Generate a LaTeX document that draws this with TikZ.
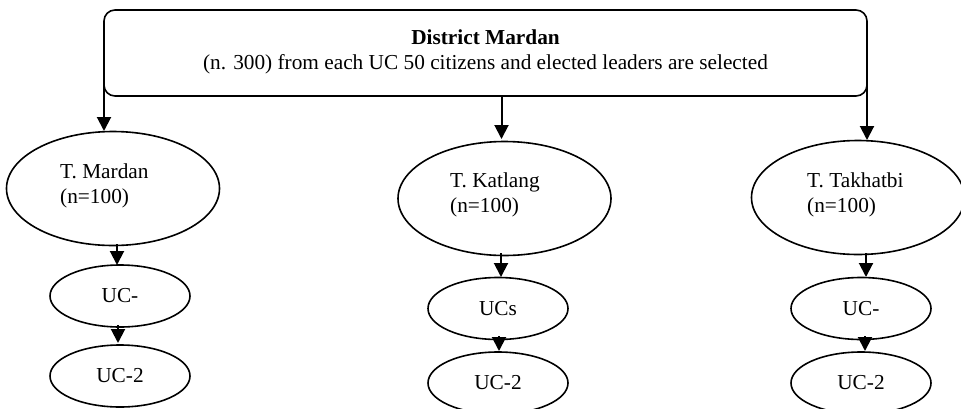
\documentclass[tikz,border=0pt]{standalone}
\usepackage{fontspec}
\setmainfont{Liberation Serif}
\usetikzlibrary{shapes.geometric,arrows.meta}
\begin{document}
\begin{tikzpicture}[x=1pt,y=-1pt,
  every node/.style={font=\fontsize{21.3}{25}\selectfont, inner sep=0pt},
  topbox/.style={draw, line width=1.6pt, rounded corners=11pt, minimum width=763pt, minimum height=86pt},
  bigell/.style={draw, ellipse, line width=1.6pt, minimum width=213pt, minimum height=114pt},
  smallell/.style={draw, ellipse, line width=1.6pt, minimum width=140pt, minimum height=62pt},
  lbl/.style={anchor=west, align=left},
  arr/.style={line width=2pt, -{Triangle[width=14pt,length=14pt]}}]
\useasboundingbox (0,0) rectangle (961,408);
% top box
\node[topbox] (top) at (485.5,53) {};
\node[align=center] (toptext) at (485.5,52) {\textbf{District Mardan}\\(n. 300) from each UC 50 citizens and elected leaders are selected};
% tehsil ellipses
\node[bigell] (tm) at (113,188.5) {};
\node[lbl] (tmt) at (60,186) {T. Mardan\\(n=100)};
\node[bigell] (tk) at (504.5,198.5) {};
\node[lbl] (tkt) at (450,195) {T. Katlang\\(n=100)};
\node[bigell] (tt) at (858,197.5) {};
\node[lbl] (ttt) at (807,195) {T. Takhatbi\\(n=100)};
% UC ellipses
\node[smallell] (m1) at (120,296) {UC-};
\node[smallell] (m2) at (120,376) {UC-2};
\node[smallell] (k1) at (498,308.5) {UCs};
\node[smallell] (k2) at (498,383) {UC-2};
\node[smallell] (t1) at (861,308.5) {UC-};
\node[smallell] (t2) at (861,383) {UC-2};
% arrows from top box
\coordinate (a1) at (104,131);
\coordinate (a2) at (501.5,139);
\coordinate (a3) at (867,140);
\draw[arr] (a1 |- 0,82) -- (a1);
\draw[arr] (top.south -| a2) -- (a2);
\draw[arr] (a3 |- 0,82) -- (a3);
% arrows down
\draw[arr] (117,244) -- (117,265);
\draw[arr] (118,325) -- (118,343);
\draw[arr] (501,253) -- (501,277);
\draw[arr] (499,336) -- (499,351);
\draw[arr] (866,253) -- (866,277);
\draw[arr] (865,336) -- (865,351);
\end{tikzpicture}
\end{document}
